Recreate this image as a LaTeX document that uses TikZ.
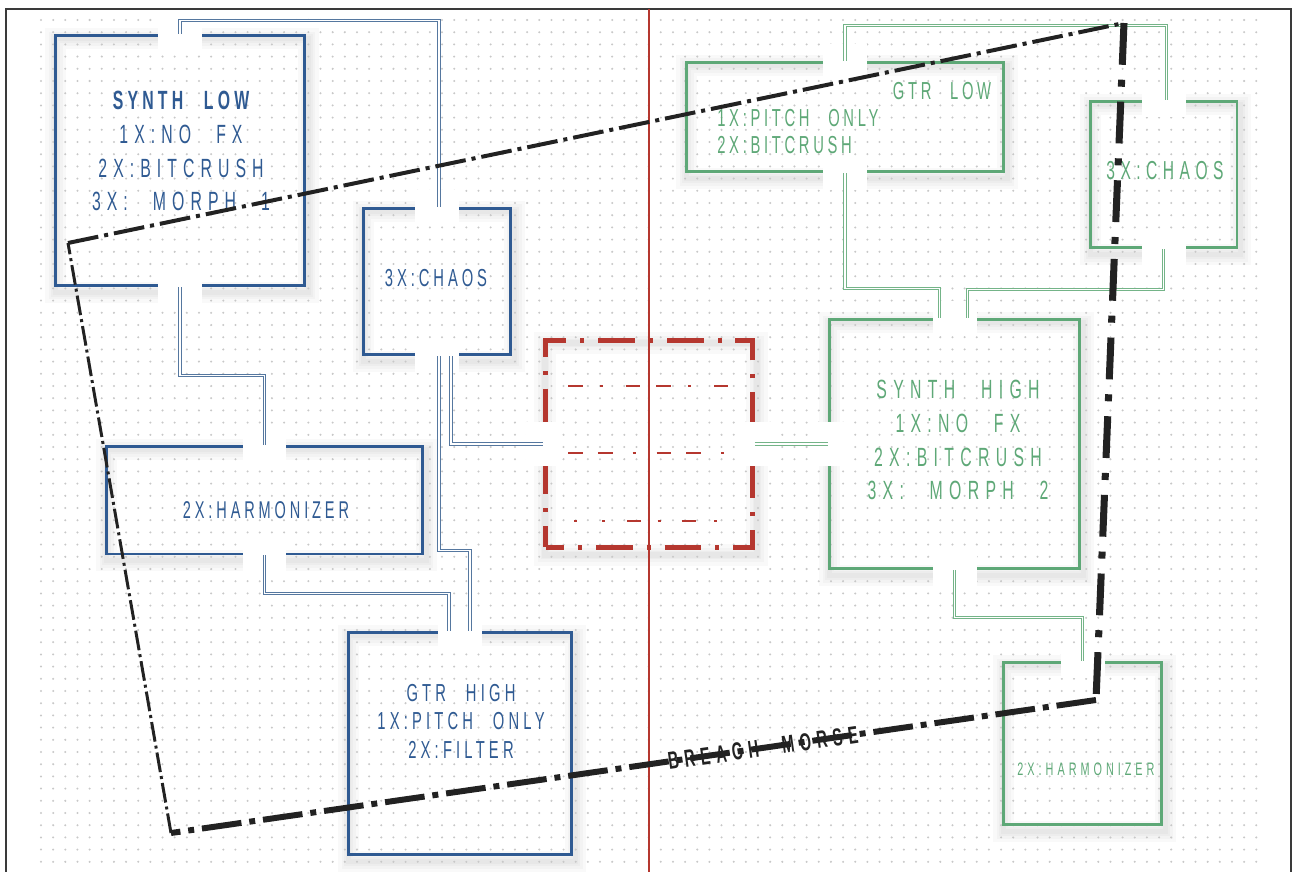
\documentclass[tikz,border=0pt]{standalone}
\usepackage{fontspec}
\newfontfamily\padfont[FakeStretch=0.6,WordSpace=2.4]{Liberation Sans}
\newcommand\padset[3]{\padfont\fontsize{#1}{#2}\selectfont\addfontfeature{LetterSpace=#3}}
\usetikzlibrary{backgrounds,calc}
\definecolor{padblue}{HTML}{2F5A92}
\definecolor{padbluew}{HTML}{55779F}
\definecolor{padgreen}{HTML}{5EA877}
\definecolor{padgreenw}{HTML}{74B488}
\definecolor{padred}{HTML}{B5372F}
\definecolor{breachink}{HTML}{222222}
\definecolor{griddot}{HTML}{C8C8C8}
\definecolor{framegray}{HTML}{3A3A3A}

\begin{document}
\begin{tikzpicture}[
 x=0.02cm, y=-0.02cm,
 box/.style={draw, line width=1.7pt, inner sep=0pt, line join=miter},
 bbox/.style={box, draw=padblue},
 gbox/.style={box, draw=padgreen},
 rbox/.style={box, draw=padred, line width=2.83pt,
   dash pattern=on 20.98pt off 7.94pt on 2.27pt off 7.94pt, dash phase=10.49pt},
 port/.style={fill=white, inner sep=0pt, minimum width=0.88cm, minimum height=0.68cm},
 portv/.style={port, minimum width=0.68cm, minimum height=0.88cm},
 wire/.style={line width=0.65pt, double=white, double distance=0.65pt},
 bwire/.style={wire, draw=padbluew},
 gwire/.style={wire, draw=padgreenw},
 morse/.style={padred, line width=1.1pt},
 dotrow/.style={griddot, line width=1.3pt, line cap=round, dash pattern=on 0pt off 6.917pt},
 breach/.style={draw=breachink, line cap=butt},
 breachtxt/.style={text=breachink, inner sep=0pt, font=\padset{14}{16}{23}\bfseries},
 txt/.style={inner sep=0pt, align=center},
 btxt/.style={txt, text=padblue},
 gtxt/.style={txt, text=padgreen},
 boxshadow/.style={draw=black, opacity=0.022, line width=#1},
]
\useasboundingbox (0,0) rectangle (1296,872);

% dotted paper
\foreach \j in {0,...,70}
  \draw[dotrow] (41,20+12.2*\j) -- (1263,20+12.2*\j);

% frame and centre line
\draw[framegray, line width=0.9pt] (6,872) -- (6,9) -- (1291,9) -- (1291,872);
\draw[padred, line width=1.1pt] (649,9) -- (649,872);

% blue side
\node[bbox, minimum width=5.00cm, minimum height=5.02cm] (synlow) at (180,160.5) {};
\node[bbox, minimum width=2.96cm, minimum height=2.94cm] (chaosb) at (437,281.5) {};
\node[bbox, minimum width=6.34cm, minimum height=2.16cm] (harmb) at (264.5,500) {};
\node[bbox, minimum width=4.48cm, minimum height=4.46cm] (gtrhi) at (460,743.5) {};
% green side
\node[gbox, minimum width=6.36cm, minimum height=2.20cm] (gtrlo) at (845,117) {};
\node[gbox, minimum width=2.94cm, minimum height=2.94cm] (chaosg) at (1163.5,174.5) {};
\node[gbox, minimum width=5.02cm, minimum height=5.00cm] (synhi) at (954.5,444) {};
\node[gbox, minimum width=3.18cm, minimum height=3.26cm] (harmg) at (1082.5,743.5) {};
% centre
\node[rbox, minimum width=4.14cm, minimum height=4.14cm] (redbox) at (649,444) {};

\begin{scope}[on background layer]
  \foreach \b in {synlow,chaosb,harmb,gtrhi,gtrlo,chaosg,synhi,harmg,redbox}
    \foreach \w in {12pt,8pt,5pt,3pt}
      \draw[boxshadow=\w] ([shift={(2,5)}]\b.south west) rectangle ([shift={(2,5)}]\b.north east);
\end{scope}

% ports
\foreach \p in {synlow.north,synlow.south,chaosb.north,chaosb.south,harmb.north,harmb.south,
  gtrhi.north,gtrlo.north,gtrlo.south,chaosg.north,chaosg.south,synhi.north,synhi.south,harmg.north}
  \node[port] at (\p) {};
\foreach \p in {synhi.west,redbox.west,redbox.east}
  \node[portv] at (\p) {};

% morse inside the centre box
\draw[morse, dash pattern=on 8.5pt off 9.6pt on 1.7pt off 13pt on 7.9pt off 9.6pt]
  ([shift={(-81,-58)}]redbox.center) -- ([shift={(81,-58)}]redbox.center);
\draw[morse, dash pattern=on 8.5pt off 8.5pt on 8.5pt off 11.3pt on 1.7pt off 11.9pt]
  ([shift={(-81,9)}]redbox.center) -- ([shift={(77,9)}]redbox.center);
\draw[morse, dash pattern=on 1.7pt off 14.2pt on 1.7pt off 12.5pt on 7.9pt off 9.6pt on 1.7pt off 11.9pt on 8.5pt off 10.2pt on 1.7pt off 60pt]
  ([shift={(-75,77)}]redbox.center) -- ([shift={(73,77)}]redbox.center);

% blue wires
\draw[bwire] (synlow.north) -- ++(0,-13) -| ([xshift=0.04cm]chaosb.north);
\draw[bwire] (synlow.south) -- ++(0,88) -| (harmb.north);
\draw[bwire] ([xshift=0.04cm]chaosb.south) -- ++(0,194) -| ([xshift=0.2cm]gtrhi.north);
\draw[bwire] ([xshift=0.28cm]chaosb.south) |- (redbox.west);
\draw[bwire] (harmb.south) -- ++(0,38) -| ([xshift=-0.22cm]gtrhi.north);
% green wires
\draw[gwire] (gtrlo.north) -- ++(0,-35) -| ([xshift=0.06cm]chaosg.north);
\draw[gwire] (gtrlo.south) -- ++(0,115) -| ([xshift=-0.3cm]synhi.north);
\draw[gwire] (chaosg.south) -- ++(0,40) -| ([xshift=0.26cm]synhi.north);
\draw[gwire] (redbox.east) -- (synhi.west);
\draw[gwire] (synhi.south) -- ++(0,47) -| (harmg.north);

% labels
\node[btxt, font=\padset{15}{19.3}{23}] (synlow-t) at (181,151)
  {{\bfseries\addfontfeature{LetterSpace=16}SYNTH LOW}\\1X:NO FX\\2X:BITCRUSH\\3X: MORPH 1};
\node[btxt, font=\padset{14}{16}{16}] (chaosb-t) at (436,278.5) {3X:CHAOS};
\node[btxt, font=\padset{13.8}{16}{16}] (harmb-t) at (266,510) {2X:HARMONIZER};
\node[btxt, font=\padset{14}{16.2}{17}] (gtrhi-t) at (461,721)
  {GTR HIGH\\1X:PITCH ONLY\\2X:FILTER};
\node[gtxt, font=\padset{14}{15}{15}] (gtrlo-t) at (942,91.5) {GTR LOW};
\node[gtxt, font=\padset{14}{15}{15}, align=left, anchor=west] (gtrlo-fx) at (717,131.5)
  {1X:PITCH ONLY\\2X:BITCRUSH};
\node[gtxt, font=\padset{14.8}{16}{21}] (chaosg-t) at (1165,171) {3X:CHAOS};
\node[gtxt, font=\padset{15}{19.3}{24}] (synhi-t) at (958,440)
  {SYNTH HIGH\\1X:NO FX\\2X:BITCRUSH\\3X: MORPH 2};
\node[gtxt, font=\padset{10.3}{12}{22}] (harmg-t) at (1086,769) {2X:HARMONIZER};

% breach outline
\coordinate (bA) at (68,243);
\coordinate (bB) at (1124,23);
\coordinate (bC) at (1096,700);
\coordinate (bD) at (171,833);
\draw[breach, line width=2.27pt, dash pattern=on 17.6pt off 3.4pt on 2.3pt off 3.4pt] (bA) -- (bB);
\draw[breach, line width=4pt, dash pattern=on 23.8pt off 8.5pt on 4pt off 8.5pt] (bB) -- (bC);
\draw[breach, line width=3.4pt, dash pattern=on 22.7pt off 4.5pt on 3.4pt off 4.5pt]
  (bC) -- node[breachtxt, sloped, pos=0.36] {BREACH MORSE} (bD);
\draw[breach, line width=1.7pt, dash pattern=on 11.3pt off 2.3pt on 1.7pt off 2.3pt] (bD) -- (bA);
\end{tikzpicture}
\end{document}
